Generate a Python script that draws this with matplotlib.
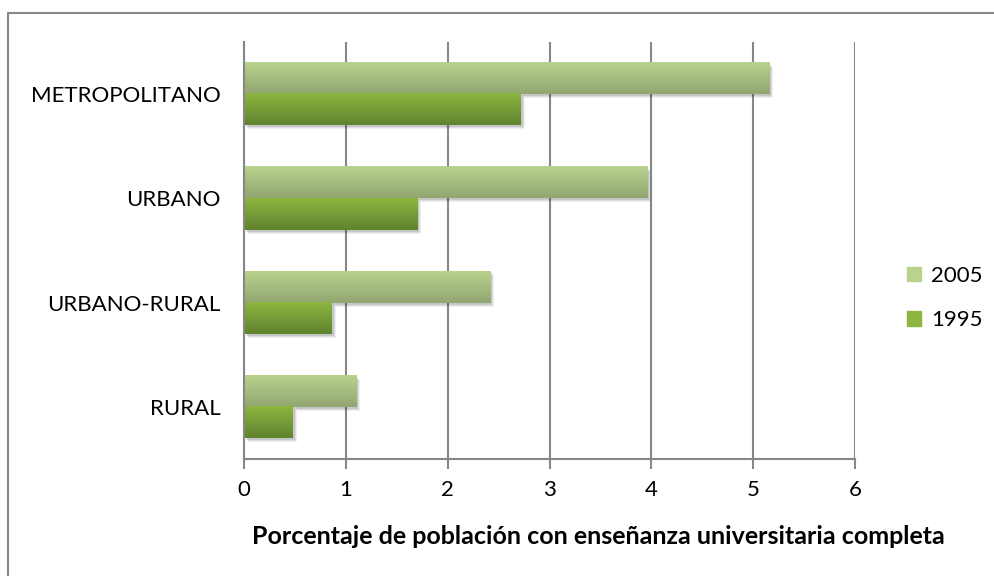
import numpy as np
import matplotlib
matplotlib.use("Agg")
import matplotlib.pyplot as plt
import matplotlib.transforms as mtransforms
from matplotlib.patches import Rectangle

# data
categories = ["RURAL", "URBANO-RURAL", "URBANO", "METROPOLITANO"]
pct_2005 = [1.10, 2.42, 3.96, 5.16]
pct_1995 = [0.48, 0.86, 1.70, 2.72]
series_labels = ["2005", "1995"]
xticks = [0, 1, 2, 3, 4, 5, 6]
xlabel = "Porcentaje de población con enseñanza universitaria completa"

plt.rcParams["font.family"] = ["Lato", "DejaVu Sans"]

grey = "#878787"
grad_2005 = ("#b8d38e", "#91a671")
grad_1995 = ("#8db540", "#60832f")


def gradient_bars(ax, bars, colors):
    top = np.array(matplotlib.colors.to_rgb(colors[0]))
    bot = np.array(matplotlib.colors.to_rgb(colors[1]))
    t = np.linspace(0, 1, 64)[:, None]
    img = (top * (1 - t) + bot * t)[:, None, :]
    for b in bars:
        x0, y0 = b.get_x(), b.get_y()
        w, h = b.get_width(), b.get_height()
        # soft drop shadow
        for k, a in [(4, 0.06), (3, 0.08), (2, 0.10)]:
            off = mtransforms.offset_copy(ax.transData, fig=ax.figure, x=k, y=-k, units="dots")
            ax.add_patch(Rectangle((x0, y0), w, h, transform=off, color="black",
                                   alpha=a, lw=0, zorder=2))
        ax.imshow(img, extent=(x0, x0 + w, y0, y0 + h), aspect="auto",
                  origin="upper", zorder=3, interpolation="bicubic")


fig = plt.figure(figsize=(9.94, 5.76), dpi=100)
ax = fig.add_axes([244 / 994, 117 / 576, 611 / 994, 417 / 576])

y = np.arange(len(categories))
h = 0.3
b05 = ax.barh(y + h / 2, pct_2005, height=h, color="none", label=series_labels[0])
b95 = ax.barh(y - h / 2, pct_1995, height=h, color="none", label=series_labels[1])
gradient_bars(ax, b05, grad_2005)
gradient_bars(ax, b95, grad_1995)

ax.set_xlim(0, 6)
ax.set_ylim(-0.5, len(categories) - 0.5)
ax.set_xticks(xticks)
ax.set_xticklabels([str(v) for v in xticks], fontsize=16)
ax.set_yticks(y)
ax.set_yticklabels(categories, fontsize=16)
ax.tick_params(axis="y", length=0, pad=17)
ax.tick_params(axis="x", length=7, width=1.5, color=grey, pad=8)

ax.grid(axis="x", color=grey, lw=1.5, zorder=1)
ax.set_axisbelow(True)
for s in ["top", "right"]:
    ax.spines[s].set_visible(False)
for s in ["left", "bottom"]:
    ax.spines[s].set_color(grey)
    ax.spines[s].set_linewidth(1.5)
    ax.spines[s].set_zorder(4)

fig.text(598 / 994, 1 - 536 / 576, xlabel, ha="center", va="center",
         fontsize=18, fontweight="bold")

# legend swatches
handles = [Rectangle((0, 0), 1, 1, color=grad_2005[0]),
           Rectangle((0, 0), 1, 1, color=grad_1995[0])]
fig.legend(handles, series_labels, loc="center left", bbox_to_anchor=(0.892, 1 - 298 / 576),
           frameon=False, fontsize=16, handlelength=0.65, handleheight=0.65,
           handletextpad=0.45, labelspacing=1.1)

# chart border (only top and left visible in the crop)
fig.add_artist(Rectangle((8 / 994, -0.1), 1.2, 1 - 13 / 576 + 0.1, transform=fig.transFigure,
                         fill=False, edgecolor=grey, lw=1.5))

fig.savefig("out.png", dpi=100)
